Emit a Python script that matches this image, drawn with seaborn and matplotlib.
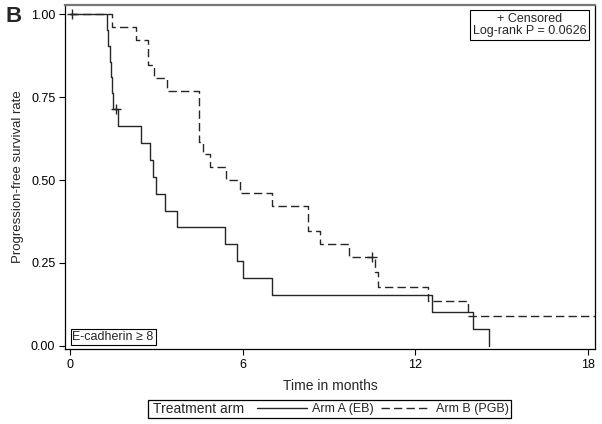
import matplotlib
matplotlib.use("Agg")
import matplotlib.pyplot as plt
from matplotlib.lines import Line2D
from matplotlib.patches import Rectangle
import seaborn as sns
import pandas as pd

sns.set_theme(style="white")
plt.rcParams['font.family'] = ['Liberation Sans', 'DejaVu Sans']

# ---- data ----
arm_a_time = [0.0, 1.26, 1.31, 1.37, 1.40, 1.43, 1.49, 1.64, 2.45, 2.77, 2.88, 2.96,
              3.29, 3.69, 5.37, 5.78, 6.01, 7.00, 12.56, 14.01, 14.56]
arm_a_surv = [1.0, 0.952, 0.905, 0.857, 0.810, 0.762, 0.714, 0.663, 0.612, 0.561, 0.510,
              0.459, 0.408, 0.357, 0.306, 0.255, 0.204, 0.153, 0.102, 0.051, 0.0]
arm_b_time = [0.0, 1.45, 2.27, 2.71, 2.92, 3.35, 4.48, 4.60, 4.85, 5.40, 5.90, 7.00,
              8.27, 8.68, 9.70, 10.59, 10.71, 12.45, 13.82, 18.24]
arm_b_surv = [1.0, 0.962, 0.923, 0.846, 0.808, 0.769, 0.615, 0.577, 0.538, 0.500, 0.462,
              0.423, 0.346, 0.308, 0.269, 0.224, 0.179, 0.134, 0.090, 0.090]
cens_a_time = [0.05, 1.58]
cens_a_surv = [1.0, 0.714]
cens_b_time = [10.48]
cens_b_surv = [0.269]
arm_labels = ["Arm A (EB)", "Arm B (PGB)"]
x_ticks = [0, 6, 12, 18]
y_ticks = [0.0, 0.25, 0.50, 0.75, 1.00]
y_ticklabels = ["0.00", "0.25", "0.50", "0.75", "1.00"]

df_a = pd.DataFrame({"t": arm_a_time, "s": arm_a_surv})
df_b = pd.DataFrame({"t": arm_b_time, "s": arm_b_surv})
cens = pd.DataFrame({"t": cens_a_time + cens_b_time, "s": cens_a_surv + cens_b_surv})

LINE = "#262626"
fig = plt.figure(figsize=(6.02, 4.24), dpi=100)
ax = fig.add_axes([0.108, 0.177, 0.880, 0.811])

sns.lineplot(data=df_a, x="t", y="s", ax=ax, drawstyle="steps-post", color=LINE,
             lw=1.0, estimator=None, sort=False)
sns.lineplot(data=df_b, x="t", y="s", ax=ax, drawstyle="steps-post", color=LINE,
             lw=1.0, estimator=None, sort=False, dashes=False, linestyle=(0, (6, 3)))
sns.scatterplot(data=cens, x="t", y="s", ax=ax, marker="+", s=45, color=LINE,
                linewidth=1.0, zorder=5)

ax.set_xlim(-0.19, 18.24)
ax.set_ylim(-0.009, 1.027)
ax.set_xticks(x_ticks)
ax.set_xticklabels([str(v) for v in x_ticks], fontsize=9)
ax.set_yticks(y_ticks)
ax.set_yticklabels(y_ticklabels, fontsize=9)
ax.tick_params(axis="both", direction="out", length=4, width=0.8, colors="black",
               bottom=True, left=True, top=False, right=False, pad=3)
for sp in ax.spines.values():
    sp.set_color("black")
    sp.set_linewidth(0.9)
ax.spines["top"].set_color("#777777")
ax.spines["top"].set_linewidth(1.6)
ax.set_xlabel("Time in months", fontsize=10, labelpad=6)
ax.set_ylabel("Progression-free survival rate", fontsize=9.5, labelpad=5)

# inset text boxes
ax.text(0.984, 0.977, "+ Censored\nLog-rank P = 0.0626", transform=ax.transAxes,
        ha="right", va="top", fontsize=9, multialignment="center", linespacing=1.05,
        bbox=dict(boxstyle="square,pad=0.2", fc="white", ec="black", lw=0.8))
ax.text(0.014, 0.017, "E-cadherin \u2265 8", transform=ax.transAxes,
        ha="left", va="bottom", fontsize=9,
        bbox=dict(boxstyle="square,pad=0.15", fc="white", ec="black", lw=0.8))

fig.text(0.009, 0.948, "B", fontsize=16, fontweight="bold", ha="left", va="baseline")

# bottom legend
fig.patches.append(Rectangle((0.2465, 0.0130), 0.602, 0.0425, transform=fig.transFigure,
                             fill=False, ec="black", lw=0.9))
fig.text(0.254, 0.0342, "Treatment arm", fontsize=10, ha="left", va="center")
handles = [Line2D([], [], color=LINE, lw=1.0),
           Line2D([], [], color=LINE, lw=1.0, linestyle=(0, (6, 3)))]
fig.legend(handles, arm_labels, loc="center left", bbox_to_anchor=(0.427, 0.0342),
           ncol=2, frameon=False, fontsize=9, handlelength=4.0, handletextpad=0.4,
           columnspacing=0.55, borderpad=0, borderaxespad=0)

fig.savefig("out.png", dpi=100)
